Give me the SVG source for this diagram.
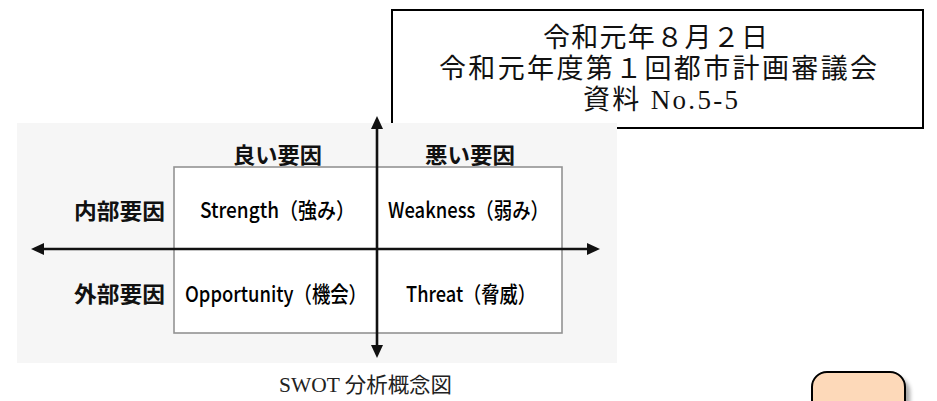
<svg xmlns="http://www.w3.org/2000/svg" width="937" height="401" viewBox="0 0 937 401">
<defs>
<style>
.hdr{font-family:"Liberation Serif","Noto Sans CJK JP",serif;font-size:27px;fill:#111;text-anchor:start}
.lbl{font-family:"Noto Sans CJK JP","Noto Sans",sans-serif;font-size:22px;font-weight:500;fill:#000}
.lblb{font-family:"Noto Sans CJK JP","Noto Sans",sans-serif;font-size:22px;font-weight:bold;fill:#111}
.cap{font-family:"Liberation Serif","Noto Sans CJK JP",serif;font-size:21px;fill:#222}
.axis{stroke:#111;stroke-width:2.6;fill:none}
</style>
<filter id="sh" x="-20%" y="-20%" width="140%" height="140%">
<feGaussianBlur stdDeviation="2"/>
</filter>
</defs>
<rect width="937" height="401" fill="#ffffff"/>
<g id="header">
<rect x="392" y="10" width="531" height="118" fill="#ffffff" stroke="#000" stroke-width="2"/>
<text class="hdr" x="543" y="47" textLength="225" lengthAdjust="spacing">令和元年８月２日</text>
<text class="hdr" x="439" y="78" textLength="438" lengthAdjust="spacing">令和元年度第１回都市計画審議会</text>
<text class="hdr" x="583" y="109" textLength="155" lengthAdjust="spacing">資料 No.5-5</text>
</g>
<g id="swot-background">
<rect x="17" y="123" width="600" height="240" fill="#f6f6f6"/>
</g>
<g id="quadrant-box">
<rect x="174" y="167" width="388" height="166" fill="#ffffff" stroke="#939393" stroke-width="1.6"/>
</g>
<g id="connectors">
<line class="axis" x1="44" y1="249" x2="587" y2="249"/>
<path d="M31,249 L44,243 L44,255 Z" fill="#111"/>
<path d="M600,249 L587,243 L587,255 Z" fill="#111"/>
<line class="axis" x1="377" y1="128" x2="377" y2="346"/>
<path d="M377,116 L371,129 L383,129 Z" fill="#111"/>
<path d="M377,358 L371,345 L383,345 Z" fill="#111"/>
</g>
<g id="label-good"><text class="lblb" x="233" y="163" textLength="89" lengthAdjust="spacingAndGlyphs">良い要因</text></g>
<g id="label-bad"><text class="lblb" x="425" y="163" textLength="90" lengthAdjust="spacingAndGlyphs">悪い要因</text></g>
<g id="label-internal"><text class="lblb" x="74" y="219" textLength="91" lengthAdjust="spacingAndGlyphs">内部要因</text></g>
<g id="label-external"><text class="lblb" x="74" y="302" textLength="91" lengthAdjust="spacingAndGlyphs">外部要因</text></g>
<g id="strength"><text class="lbl" x="200" y="218" textLength="155" lengthAdjust="spacingAndGlyphs">Strength（強み）</text></g>
<g id="weakness"><text class="lbl" x="388" y="218" textLength="161" lengthAdjust="spacingAndGlyphs">Weakness（弱み）</text></g>
<g id="opportunity"><text class="lbl" x="185" y="302" textLength="182" lengthAdjust="spacingAndGlyphs">Opportunity（機会）</text></g>
<g id="threat"><text class="lbl" x="406" y="302" textLength="130" lengthAdjust="spacingAndGlyphs">Threat（脅威）</text></g>
<g id="caption"><text class="cap" x="279" y="392" textLength="173" lengthAdjust="spacingAndGlyphs">SWOT 分析概念図</text></g>
<g id="tab">
<rect x="817" y="377" width="93" height="60" rx="15" fill="#000" opacity="0.35" filter="url(#sh)"/>
<rect x="812" y="372" width="93" height="60" rx="15" fill="#fdd9b9" stroke="#000" stroke-width="2"/>
</g>
</svg>
